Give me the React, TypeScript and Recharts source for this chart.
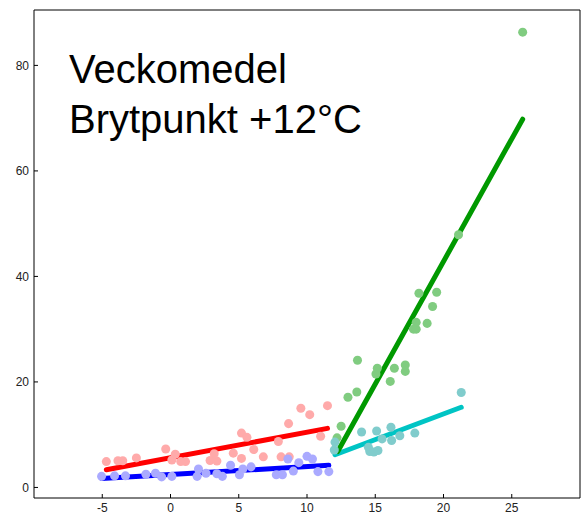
import { ComposedChart, Line, Scatter, XAxis, YAxis } from "recharts";

// weekly means, split at the +12°C break point
const redPoints = [
  { x: -4.7, y: 4.9 }, { x: -3.85, y: 5.05 }, { x: -3.5, y: 5.05 }, { x: -2.5, y: 5.6 },
  { x: -0.35, y: 7.3 }, { x: 0.35, y: 6.3 }, { x: 0.1, y: 5.2 }, { x: 0.75, y: 4.9 },
  { x: 1.1, y: 4.9 }, { x: 2.9, y: 5.1 }, { x: 3.4, y: 5.0 }, { x: 3.2, y: 6.4 },
  { x: 4.6, y: 6.5 }, { x: 5.2, y: 5.5 }, { x: 5.2, y: 10.3 }, { x: 5.6, y: 9.5 },
  { x: 6.1, y: 7.2 }, { x: 6.8, y: 5.8 }, { x: 7.9, y: 8.7 }, { x: 8.1, y: 5.8 },
  { x: 8.7, y: 5.8 }, { x: 8.65, y: 12.1 }, { x: 9.55, y: 15.0 }, { x: 10.2, y: 13.8 },
  { x: 11.0, y: 9.7 }, { x: 11.5, y: 15.5 },
];

const bluePoints = [
  { x: -5.05, y: 2.1 }, { x: -4.1, y: 2.2 }, { x: -3.3, y: 2.2 }, { x: -1.8, y: 2.5 },
  { x: -1.1, y: 2.7 }, { x: -0.65, y: 2.0 }, { x: 0.1, y: 2.1 }, { x: 1.95, y: 2.1 },
  { x: 2.05, y: 3.5 }, { x: 2.6, y: 2.7 }, { x: 3.4, y: 2.6 }, { x: 3.8, y: 2.1 },
  { x: 4.4, y: 4.2 }, { x: 5.05, y: 2.4 }, { x: 5.3, y: 3.5 }, { x: 5.9, y: 3.9 },
  { x: 7.75, y: 2.4 }, { x: 8.2, y: 2.4 }, { x: 8.6, y: 5.4 }, { x: 9.0, y: 3.1 },
  { x: 9.4, y: 4.7 }, { x: 10.0, y: 5.9 }, { x: 10.4, y: 5.4 }, { x: 10.8, y: 3.0 },
  { x: 11.6, y: 3.0 },
];

const greenPoints = [
  { x: 12.2, y: 9.4 }, { x: 12.5, y: 11.6 }, { x: 13.0, y: 17.1 }, { x: 13.65, y: 18.1 },
  { x: 13.7, y: 24.1 }, { x: 15.05, y: 21.5 }, { x: 15.15, y: 22.6 }, { x: 16.1, y: 20.1 },
  { x: 16.4, y: 22.6 }, { x: 17.2, y: 23.2 }, { x: 17.2, y: 22.0 }, { x: 17.8, y: 30.0 },
  { x: 18.0, y: 30.0 }, { x: 18.0, y: 31.3 }, { x: 18.8, y: 31.1 }, { x: 18.2, y: 36.8 },
  { x: 19.2, y: 34.3 }, { x: 19.5, y: 37.0 }, { x: 21.1, y: 47.9 }, { x: 25.8, y: 86.3 },
];

const cyanPoints = [
  { x: 12.05, y: 8.6 }, { x: 12.0, y: 7.1 }, { x: 14.0, y: 10.5 }, { x: 14.5, y: 7.6 },
  { x: 14.6, y: 6.8 }, { x: 14.9, y: 6.7 }, { x: 15.2, y: 7.0 }, { x: 15.1, y: 10.7 },
  { x: 15.5, y: 9.2 }, { x: 16.15, y: 11.4 }, { x: 16.2, y: 8.9 }, { x: 16.8, y: 9.8 },
  { x: 17.9, y: 10.3 }, { x: 21.3, y: 18.0 },
];

// fitted lines (end points)
const redFit = [{ x: -4.7, y: 3.35 }, { x: 11.5, y: 11.2 }];
const blueFit = [{ x: -5.05, y: 1.7 }, { x: 11.6, y: 4.2 }];
const greenFit = [{ x: 12.25, y: 6.8 }, { x: 25.8, y: 69.8 }];
const cyanFit = [{ x: 12.05, y: 6.2 }, { x: 21.3, y: 15.2 }];

const xTicks = [-5, 0, 5, 10, 15, 20, 25];
const yTicks = [0, 20, 40, 60, 80];
const titleLines = ["Veckomedel", "Brytpunkt +12°C"];

const font = "'Liberation Sans', Arial, sans-serif";
const tickStyle = { fontSize: 12, fill: "#222", fontFamily: font };

export default function App() {
  return (
    <div style={{ position: "absolute", left: 0, top: 0, width: 586, height: 514, background: "#fff" }}>
      <ComposedChart
        width={586}
        height={514}
        margin={{ top: 9, right: 5, bottom: 0, left: 0 }}
      >
        <XAxis
          dataKey="x"
          type="number"
          domain={[-10, 30]}
          ticks={xTicks}
          allowDataOverflow
          height={16}
          tickSize={-4}
          tickMargin={9}
          tick={tickStyle}
          tickLine={{ stroke: "#000" }}
          axisLine={{ stroke: "#000" }}
        />
        <XAxis
          xAxisId="top"
          orientation="top"
          dataKey="x"
          type="number"
          domain={[-10, 30]}
          ticks={xTicks}
          allowDataOverflow
          height={1}
          tickSize={-4}
          tick={false}
          tickLine={{ stroke: "#000" }}
          axisLine={{ stroke: "#000" }}
        />
        <YAxis
          dataKey="y"
          type="number"
          domain={[-2, 90.5]}
          ticks={yTicks}
          allowDataOverflow
          width={34}
          tickSize={-4}
          tickMargin={9}
          tick={tickStyle}
          tickLine={{ stroke: "#000" }}
          axisLine={{ stroke: "#000" }}
        />
        <YAxis
          yAxisId="right"
          orientation="right"
          dataKey="y"
          type="number"
          domain={[-2, 90.5]}
          ticks={yTicks}
          allowDataOverflow
          width={1}
          tickSize={-4}
          tick={false}
          tickLine={{ stroke: "#000" }}
          axisLine={{ stroke: "#000" }}
        />

        <Scatter data={redPoints} fill="#ffaaaa" isAnimationActive={false} />
        <Scatter data={bluePoints} fill="#aaaaff" isAnimationActive={false} />
        <Scatter data={greenPoints} fill="#80cc80" isAnimationActive={false} />
        <Scatter data={cyanPoints} fill="#80cccc" isAnimationActive={false} />

        {/* invisible series so the mirrored frame axes get a domain */}
        <Line xAxisId="top" yAxisId="right" data={greenFit} dataKey="y" stroke="none" dot={false} activeDot={false} isAnimationActive={false} />

        <Line data={redFit} dataKey="y" stroke="#ff0000" strokeWidth={5} strokeLinecap="round" dot={false} activeDot={false} isAnimationActive={false} />
        <Line data={blueFit} dataKey="y" stroke="#0000ff" strokeWidth={5} strokeLinecap="round" dot={false} activeDot={false} isAnimationActive={false} />
        <Line data={cyanFit} dataKey="y" stroke="#00c4c4" strokeWidth={5} strokeLinecap="round" dot={false} activeDot={false} isAnimationActive={false} />
        <Line data={greenFit} dataKey="y" stroke="#009900" strokeWidth={5} strokeLinecap="round" dot={false} activeDot={false} isAnimationActive={false} />
      </ComposedChart>

      <svg width={586} height={514} style={{ position: "absolute", left: 0, top: 0, pointerEvents: "none" }}>
        {titleLines.map((t, i) => (
          <text key={t} x={69} y={83 + i * 50} fontSize={40} fontFamily={font} fill="#000">
            {t}
          </text>
        ))}
      </svg>
    </div>
  );
}
